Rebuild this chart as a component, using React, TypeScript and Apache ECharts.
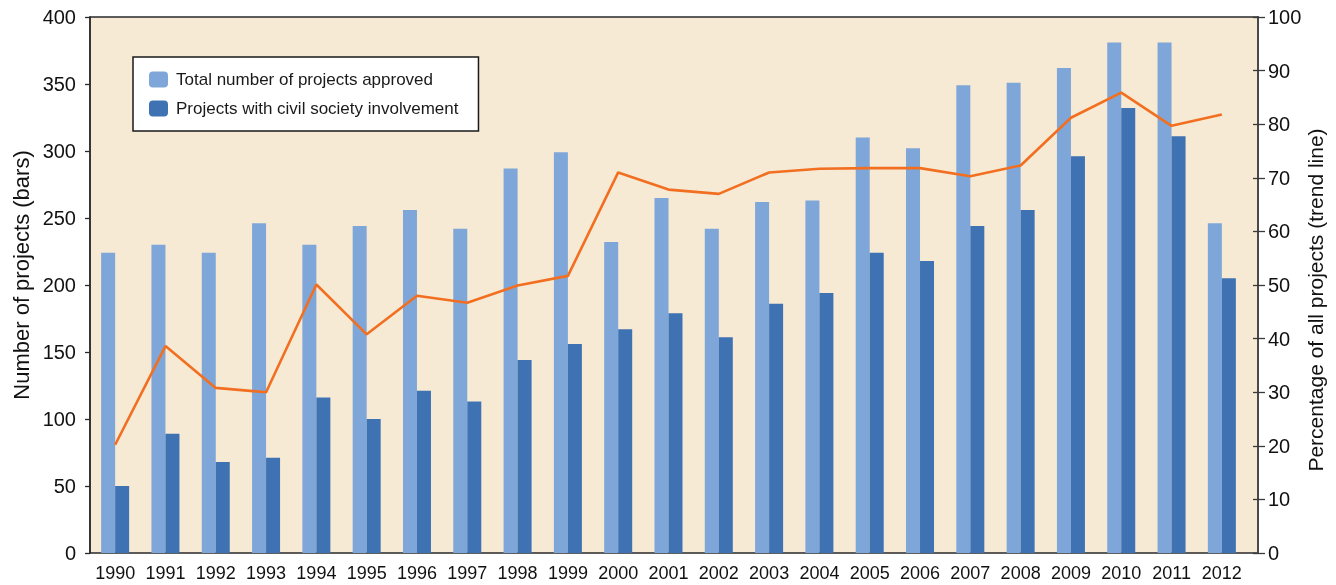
import React, { useEffect, useRef } from "react";
import * as echarts from "echarts";

const years = ["1990","1991","1992","1993","1994","1995","1996","1997","1998","1999","2000","2001","2002","2003","2004","2005","2006","2007","2008","2009","2010","2011","2012"];
const totalProjects = [224,230,224,246,230,244,256,242,287,299,232,265,242,262,263,310,302,349,351,362,381,381,246];
const civilProjects = [50,89,68,71,116,100,121,113,144,156,167,179,161,186,194,224,218,244,256,296,332,311,205];
const percentTrend = [20.2,38.6,30.8,30.0,50.1,40.8,48.0,46.7,49.9,51.7,71.0,67.8,67.0,71.0,71.7,71.8,71.8,70.3,72.3,81.2,85.9,79.7,81.8];

const FONT = "'Liberation Sans', Arial, sans-serif";

export default function App() {
  const ref = useRef<HTMLDivElement>(null);
  useEffect(() => {
    if (!ref.current) return;
    const chart = echarts.init(ref.current, null, { renderer: "svg" });
    chart.setOption({
      animation: false,
      textStyle: { fontFamily: FONT },
      grid: [
        {
          left: 90, right: 89, top: 17, bottom: 32,
          outerBoundsMode: "none",
        },
        {
          left: 90, right: 78, top: 17, bottom: 32,
          outerBoundsMode: "none",
          show: true, backgroundColor: "#F6EAD4", borderColor: "#2a2a2a", borderWidth: 1.5,
        },
        {
          left: 90, right: 78, top: 17, bottom: 32,
          outerBoundsMode: "none",
        },
      ],
      legend: {
        orient: "vertical",
        left: 133, top: 57,
        padding: [14, 20, 14, 16],
        itemWidth: 19, itemHeight: 16, itemGap: 12,
        backgroundColor: "#ffffff", borderColor: "#1a1a1a", borderWidth: 1.5,
        textStyle: { fontSize: 17, color: "#1a1a1a", fontFamily: FONT, padding: [0, 0, 0, 3] },
        data: ["Total number of projects approved", "Projects with civil society involvement"],
      },
      xAxis: [
        {
          type: "category",
          gridIndex: 0,
          data: years,
          axisTick: { show: false },
          axisLine: { show: false },
          axisLabel: { interval: 0, fontSize: 18, color: "#111", margin: 11, fontFamily: FONT },
        },
        { type: "value", gridIndex: 1, min: 0, max: 1, show: false },
        { type: "value", gridIndex: 2, min: 0, max: 1, show: false },
      ],
      yAxis: [
        {
          type: "value", gridIndex: 0, min: 0, max: 400, interval: 50, position: "left",
          name: "Number of projects (bars)", nameLocation: "middle", nameGap: 58, nameMoveOverlap: false,
          nameTextStyle: { fontSize: 22, color: "#111", fontFamily: FONT, padding: [0, 0, 0, 20] },
          axisLine: { show: true, onZero: false, lineStyle: { color: "#2a2a2a", width: 1.5 } },
          axisTick: { show: true, length: 5, lineStyle: { color: "#2a2a2a", width: 1.3 } },
          axisLabel: { fontSize: 20, color: "#111", margin: 14, fontFamily: FONT },
          splitLine: { show: false },
        },
        {
          type: "value", gridIndex: 0, min: 0, max: 100, interval: 10, position: "right",
          axisLine: { show: false, onZero: false }, axisTick: { show: false }, axisLabel: { show: false },
          splitLine: { show: false },
        },
        {
          type: "value", gridIndex: 1, min: 0, max: 100, interval: 10, position: "right",
          name: "Percentage of all projects (trend line)", nameLocation: "middle", nameGap: 47, nameMoveOverlap: false,
          nameTextStyle: { fontSize: 21, color: "#111", fontFamily: FONT, padding: [0, 30, 0, 0] },
          axisLine: { show: true, onZero: false, lineStyle: { color: "#4a4a4a", width: 2 } },
          axisTick: { show: true, length: 7, lineStyle: { color: "#3a3a3a", width: 1.3 } },
          axisLabel: { fontSize: 20, color: "#111", margin: 10, fontFamily: FONT },
          splitLine: { show: false },
        },
        {
          type: "value", gridIndex: 2, min: 0, max: 100, interval: 10, position: "right",
          axisLine: { show: false, onZero: false },
          axisTick: { show: true, inside: true, length: 5, lineStyle: { color: "#3a3a3a", width: 1.3 } },
          axisLabel: { show: false },
          splitLine: { show: false },
        },
      ],
      series: [
        {
          name: "Total number of projects approved",
          type: "bar", xAxisIndex: 0, yAxisIndex: 0, data: totalProjects, barWidth: 14, barGap: "0%",
          itemStyle: { color: "#7EA6D8" },
        },
        {
          name: "Projects with civil society involvement",
          type: "bar", xAxisIndex: 0, yAxisIndex: 0, data: civilProjects, barWidth: 14, barGap: "0%",
          itemStyle: { color: "#3E72B3" },
        },
        {
          name: "Percentage of all projects",
          type: "line", xAxisIndex: 0, yAxisIndex: 1, data: percentTrend,
          symbol: "none", lineStyle: { color: "#F26F21", width: 2.6 },
          itemStyle: { color: "#F26F21" },
        },
      ],
    });
    return () => chart.dispose();
  }, []);
  return <div ref={ref} style={{ position: "fixed", left: 0, top: 0, width: 1336, height: 585 }} />;
}
